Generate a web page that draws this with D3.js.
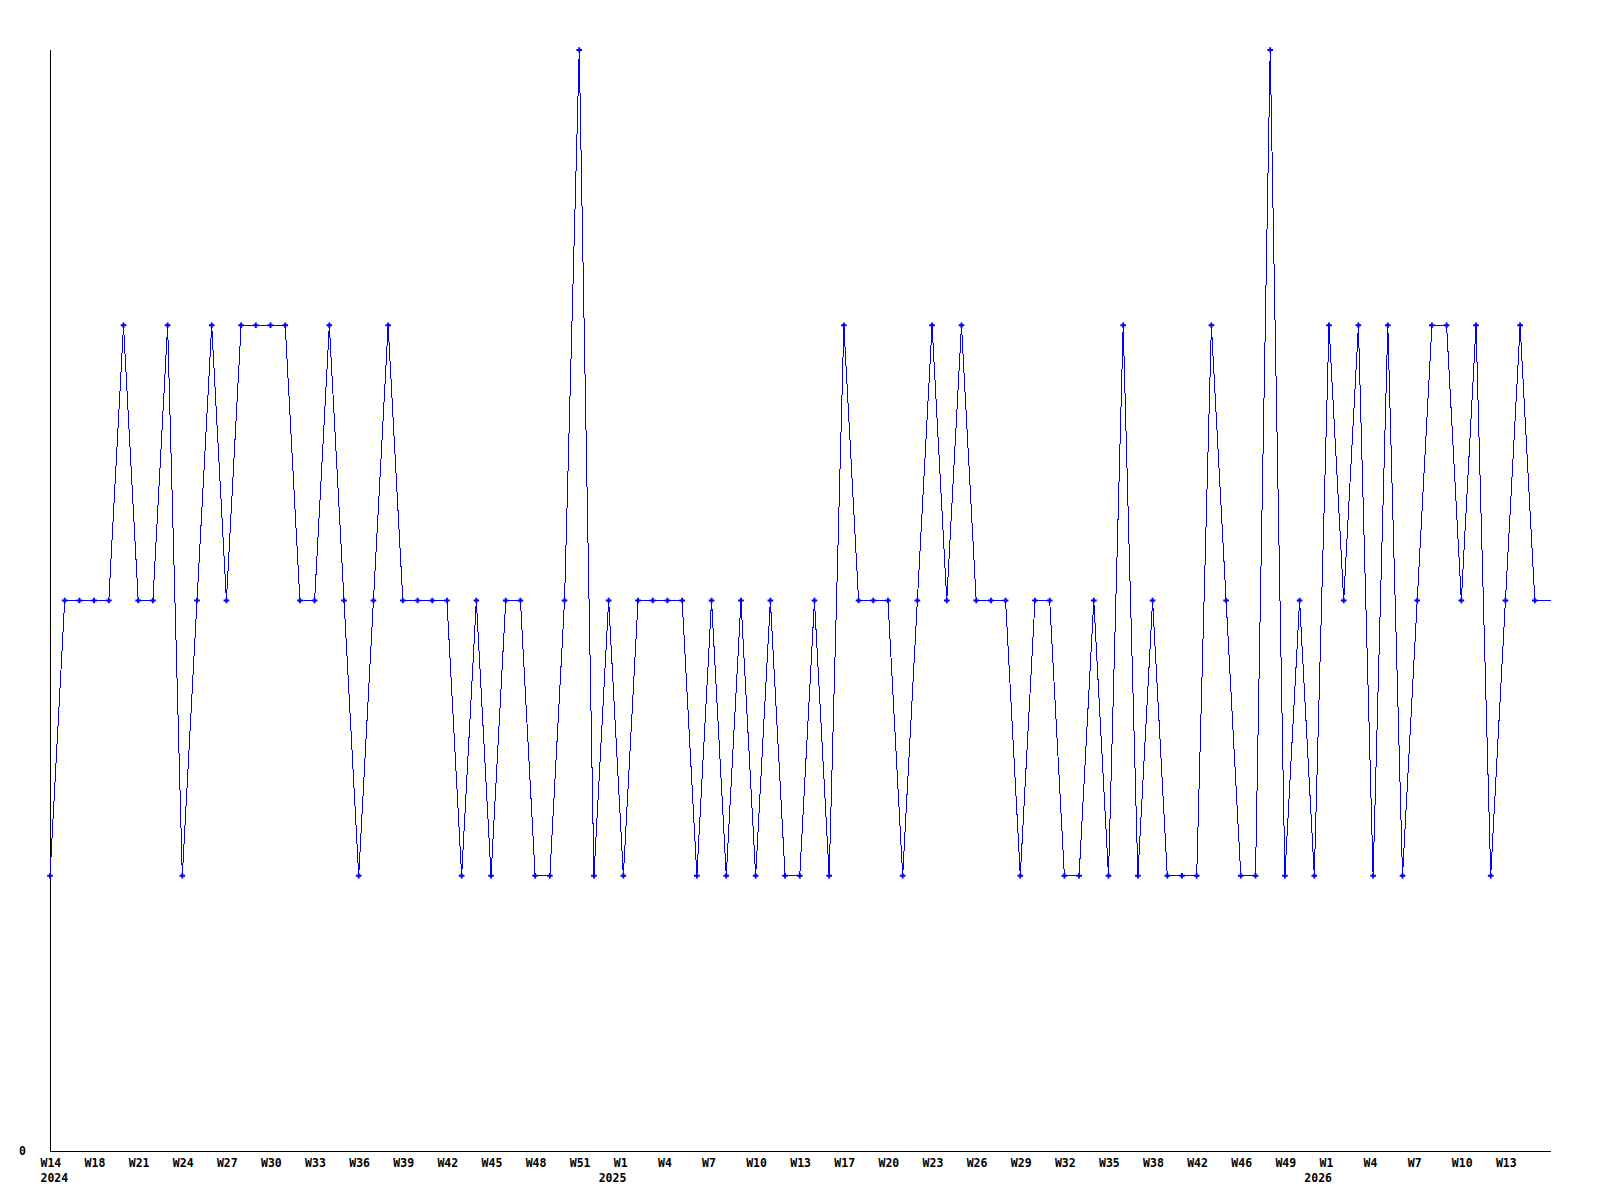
<!DOCTYPE html>
<html>
<head>
<meta charset="utf-8">
<script src="https://cdn.jsdelivr.net/npm/d3@7"></script>
<style>
  body { margin: 0; background: #fff; }
  .axis text { font-family: "DejaVu Sans Mono", monospace; font-weight: bold; font-size: 11.5px; fill: #000; }
  .axis path { stroke: #000; shape-rendering: crispEdges; }
</style>
</head>
<body>
<div id="chart"></div>
<script>
// weekly counts, W14 2024 .. W15 2026
const values = [
  1, 2, 2, 2, 2, 3, 2, 2, 3, 1,
  2, 3, 2, 3, 3, 3, 3, 2, 2, 3,
  2, 1, 2, 3, 2, 2, 2, 2, 1, 2,
  1, 2, 2, 1, 1, 2, 4, 1, 2, 1,
  2, 2, 2, 2, 1, 2, 1, 2, 1, 2,
  1, 1, 2, 1, 3, 2, 2, 2, 1, 2,
  3, 2, 3, 2, 2, 2, 1, 2, 2, 1,
  1, 2, 1, 3, 1, 2, 1, 1, 1, 3,
  2, 1, 1, 4, 1, 2, 1, 3, 2, 3,
  1, 3, 1, 2, 3, 3, 2, 3, 1, 2,
  3, 2
]

// one label every 3 weeks
const weekLabels = ['W14', 'W18', 'W21', 'W24', 'W27', 'W30', 'W33', 'W36', 'W39', 'W42', 'W45', 'W48', 'W51',
  'W1', 'W4', 'W7', 'W10', 'W13', 'W17', 'W20', 'W23', 'W26', 'W29', 'W32', 'W35', 'W38', 'W42', 'W46', 'W49',
  'W1', 'W4', 'W7', 'W10', 'W13']
const yearLabels = ['2024', '2025', '2026']
const yearAt = [0, 13, 29] // position in weekLabels
const tickStep = 3
const endIndex = 102.1 // current (partial) week

const width = 1600
const height = 1200
const margin = { top: 50, left: 50, right: 49, bottom: 49 }

const svg = d3.select('#chart')
  .append('svg')
  .attr('width', width)
  .attr('height', height)

const x = d3.scaleLinear()
  .domain([0, endIndex])
  .range([margin.left, width - margin.right])

const y = d3.scaleLinear()
  .domain([0, 4])
  .range([height - margin.bottom, margin.top])

const tickIdx = weekLabels.map((d, i) => i * tickStep)

// x axis, week labels
const xAxis = svg.append('g')
  .attr('class', 'axis')
  .attr('transform', `translate(0,${y(0)})`)
  .call(d3.axisBottom(x).tickValues(tickIdx).tickSize(0).tickPadding(7.5)
    .tickFormat((d, i) => weekLabels[i]))
xAxis.select('.domain').attr('d', `M${x(0)},0H${x(endIndex)}`)
xAxis.selectAll('text').attr('text-anchor', 'start').attr('dx', -10)

// year labels under first week of each year
const yearAxis = svg.append('g')
  .attr('class', 'axis')
  .attr('transform', `translate(0,${y(0)})`)
  .call(d3.axisBottom(x).tickValues(yearAt.map(i => tickIdx[i])).tickSize(0).tickPadding(22.5)
    .tickFormat((d, i) => yearLabels[i]))
yearAxis.select('.domain').remove()
yearAxis.selectAll('text')
  .attr('text-anchor', (d, i) => i === 0 ? 'start' : 'end')
  .attr('dx', (d, i) => i === 0 ? -10 : 2.5)

// y axis, only 0
const yAxis = svg.append('g')
  .attr('class', 'axis')
  .attr('transform', `translate(${x(0)},0)`)
  .call(d3.axisLeft(y).tickValues([0]).tickFormat(d3.format('d')).tickSize(0).tickPadding(24))
yAxis.select('.domain').attr('d', `M0,${y(0)}V${y(4)}`)

// line continues to the end of the partial week
const lineData = values.map((v, i) => [i, v])
lineData.push([endIndex, values[values.length - 1]])

const line = d3.line()
  .x(d => x(d[0]))
  .y(d => y(d[1]))

svg.append('path')
  .datum(lineData)
  .attr('d', line)
  .attr('fill', 'none')
  .attr('stroke', '#0000ff')
  .attr('stroke-width', 1)
  .attr('shape-rendering', 'crispEdges')

const marker = d3.symbol().type(d3.symbolCross).size(18)

svg.selectAll('.pt')
  .data(values)
  .enter()
  .append('path')
  .attr('class', 'pt')
  .attr('d', marker)
  .attr('transform', (d, i) => `translate(${x(i)},${y(d)})`)
  .attr('fill', '#0000ff')
</script>
</body>
</html>
